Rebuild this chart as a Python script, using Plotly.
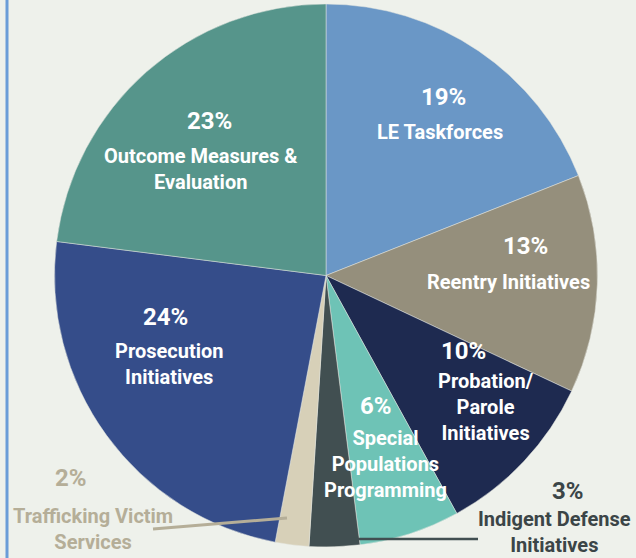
import plotly.graph_objects as go

categories = ["LE Taskforces", "Reentry Initiatives", "Probation/Parole Initiatives",
              "Special Populations Programming", "Indigent Defense Initiatives",
              "Trafficking Victim Services", "Prosecution Initiatives",
              "Outcome Measures & Evaluation"]
values = [19, 13, 10, 6, 3, 2, 24, 23]
colors = ["#6A97C6", "#958F7C", "#1E2A50", "#6EC3B6", "#414F51",
          "#D7D0B8", "#354D8A", "#56958B"]

# label texts (percent line + name lines)
label_pct = ["19%", "13%", "10%", "6%", "3%", "2%", "24%", "23%"]
label_name = ["LE Taskforces", "Reentry Initiatives", "Probation/<br>Parole<br>Initiatives",
              "Special<br>Populations<br>Programming", "Indigent Defense<br>Initiatives",
              "Trafficking Victim<br>Services", "Prosecution<br>Initiatives",
              "Outcome Measures &<br>Evaluation"]
# label anchor positions in pixels
W, H = 636, 558
pct_pos = [(443, 97), (525, 246), (464, 351), (376, 406), (568, 491), (71, 478), (165, 317), (209, 121)]
name_pos = [(440, 118), (508, 268), (486, 367), (385, 424), (554, 505), (93, 502), (169, 337), (200, 142)]
label_colors = ["white"] * 8
label_colors[4] = "#3B4547"
label_colors[5] = "#B5AE98"

fig = go.Figure()
fig.add_trace(go.Pie(
    labels=categories, values=values, sort=False, direction="clockwise", rotation=0,
    marker=dict(colors=colors, line=dict(color="#E4E6E0", width=0.5)),
    textinfo="none", hoverinfo="label+percent", showlegend=False,
    domain=dict(x=[52 / W, 600 / W], y=[1 - 547 / H, 1 - 4 / H]),
))

font_family = "Roboto, 'Open Sans', sans-serif"
for i in range(len(categories)):
    px, py = pct_pos[i]
    fig.add_annotation(x=px / W, y=1 - py / H, xref="paper", yref="paper",
                       text="<b>%s</b>" % label_pct[i], showarrow=False,
                       font=dict(family=font_family, size=24, color=label_colors[i]),
                       xanchor="center", yanchor="middle")
    nx, ny = name_pos[i]
    fig.add_annotation(x=nx / W, y=1 - ny / H, xref="paper", yref="paper",
                       text="<b>%s</b>" % label_name[i], showarrow=False,
                       font=dict(family=font_family, size=20, color=label_colors[i]),
                       xanchor="center", yanchor="top", align="center")

# leader lines
fig.add_shape(type="line", xref="paper", yref="paper",
              x0=153 / W, y0=1 - 529 / H, x1=287 / W, y1=1 - 518 / H,
              line=dict(color="#B5AE98", width=3))
fig.add_shape(type="line", xref="paper", yref="paper",
              x0=352 / W, y0=1 - 539 / H, x1=478 / W, y1=1 - 539 / H,
              line=dict(color="#414F51", width=2.5))
# left border
fig.add_shape(type="line", xref="paper", yref="paper",
              x0=7 / W, y0=0, x1=7 / W, y1=1,
              line=dict(color="#6A9DD8", width=3))

fig.update_layout(width=W, height=H, margin=dict(l=0, r=0, t=0, b=0),
                  paper_bgcolor="#EEF1EB", plot_bgcolor="#EEF1EB")
fig.write_html("out.html")
